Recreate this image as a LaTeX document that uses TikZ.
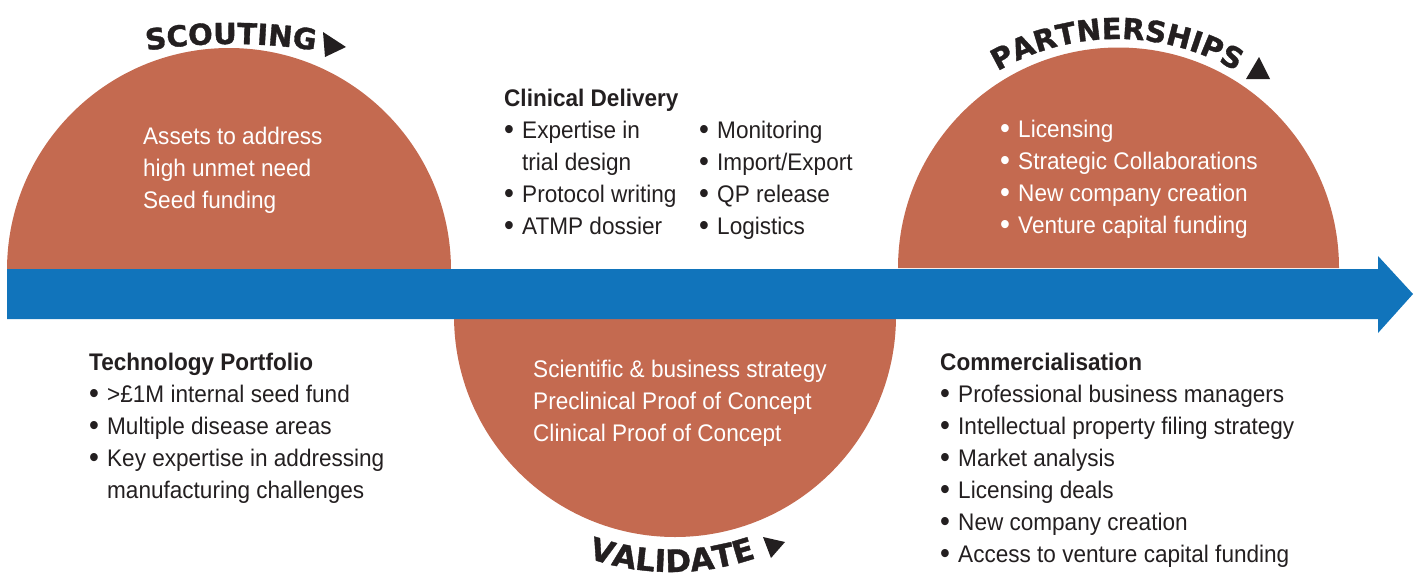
\documentclass[tikz,border=0pt]{standalone}
\usepackage{fontspec}
\usepackage{tikz}
\usetikzlibrary{decorations.text}
\setmainfont{Liberation Sans}[FakeStretch=0.94]
\newfontfamily\arcfont{DejaVu Sans}[FakeBold=1.2]
\definecolor{rust}{RGB}{196,106,80}
\definecolor{flowblue}{RGB}{17,116,187}
\definecolor{ink}{RGB}{35,31,32}
\newcommand{\bul}{\makebox[18pt][l]{\raisebox{-1.5pt}{\fontsize{30}{30}\selectfont\textbullet}}}
\newcommand{\ind}{\hspace*{18pt}}

\begin{document}
\begin{tikzpicture}[x=1pt, y=-1pt,
    txt/.style={anchor=base west, inner sep=0pt, align=left, text=ink, font=\fontsize{24}{32}\selectfont},
    wtxt/.style={txt, text=white},
    arclabel/.style 2 args={decorate, decoration={text along path, text align=center,
        text={|\arcfont\bfseries\fontsize{#1}{#1}\selectfont\color{ink}|#2}}}]
    \useasboundingbox (0,0) rectangle (1418,576);

    % Scouting (nodes anchored at the baseline of their last line)
    \fill[rust] (7,270) arc[start angle=180, end angle=360, radius=222] -- cycle;
    \node[wtxt] (scoutTxt) at (143,208) {Assets to address\\high unmet need\\Seed funding};

    % Validate
    \fill[rust] (454,316) arc[start angle=180, end angle=0, radius=221] -- cycle;
    \node[wtxt] (valTxt) at (533,441) {Scientific \& business strategy\\Preclinical Proof of Concept\\Clinical Proof of Concept};

    % Partnerships
    \fill[rust] (898,268) arc[start angle=180, end angle=360, radius=220.5] -- cycle;
    \node[wtxt] (partTxt) at (1000,233) {\bul Licensing\\\bul Strategic Collaborations\\\bul New company creation\\\bul Venture capital funding};

    % Flow arrow
    \fill[flowblue] (7,269) -- (1378,269) -- (1378,256) -- (1413,294) -- (1378,333) -- (1378,319) -- (7,319) -- cycle;

    % Curved labels
    \path[arclabel={29}{SCOUTING}] (231,584) ++(250:540) arc[start angle=250, end angle=290, radius=540];
    \fill[ink] (323,32) -- (346,47) -- (325,57) -- cycle;
    \path[arclabel={29}{PARTNERSHIPS}] (1117,275) ++(225:236) arc[start angle=225, end angle=315, radius=236];
    \fill[ink] (1259,57) -- (1270,79) -- (1246,79) -- cycle;
    \path[arclabel={31}{VALIDATE}] (672,314) ++(115:258) arc[start angle=115, end angle=65, radius=258];
    \fill[ink] (763,537) -- (785,542) -- (771,558) -- cycle;

    % Clinical delivery
    \node[txt] (clinA) at (504,234) {\textbf{Clinical Delivery}\\\bul Expertise in\\\ind trial design\\\bul Protocol writing\\\bul ATMP dossier};
    \node[txt] (clinB) at (699,234) {\bul Monitoring\\\bul Import/Export\\\bul QP release\\\bul Logistics};

    % Technology portfolio
    \node[txt] (techTxt) at (89,498) {\textbf{Technology Portfolio}\\\bul >£1M internal seed fund\\\bul Multiple disease areas\\\bul Key expertise in addressing\\\ind manufacturing challenges};

    % Commercialisation
    \node[txt] (commTxt) at (940,562) {\textbf{Commercialisation}\\\bul Professional business managers\\\bul Intellectual property filing strategy\\\bul Market analysis\\\bul Licensing deals\\\bul New company creation\\\bul Access to venture capital funding};
\end{tikzpicture}
\end{document}
